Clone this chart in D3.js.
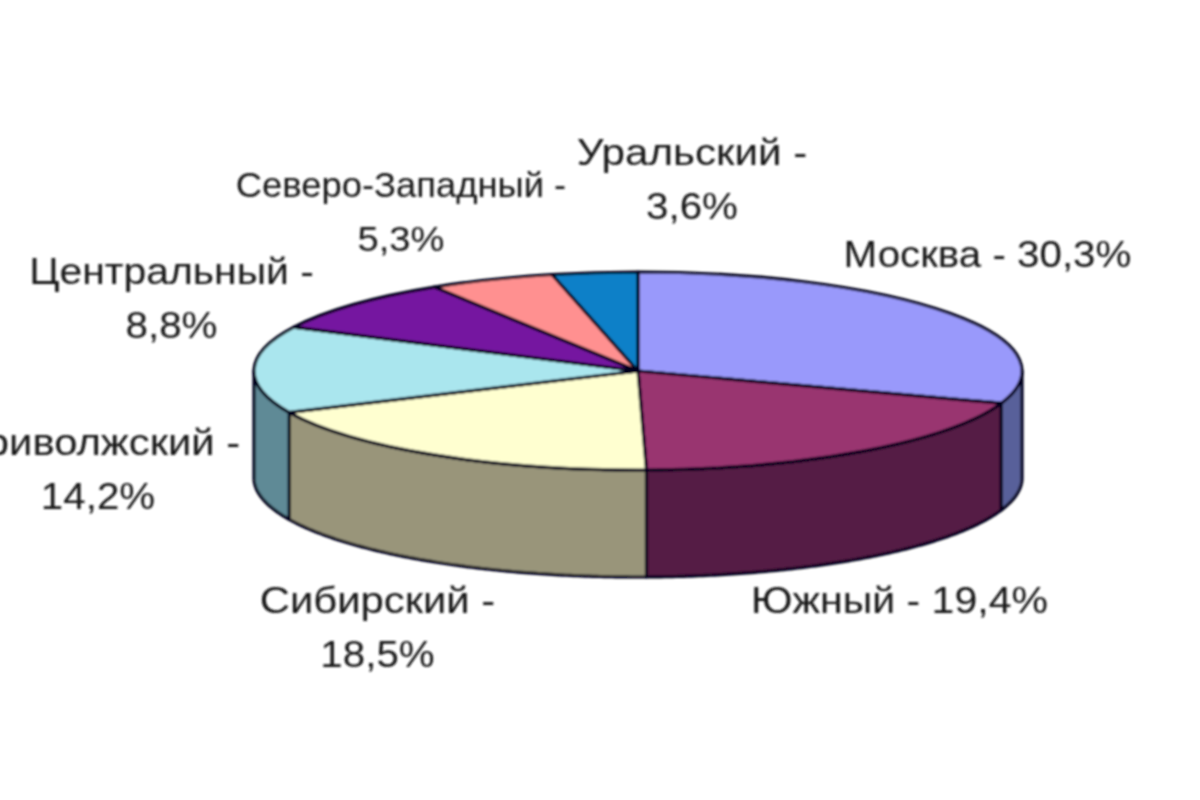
<!DOCTYPE html>
<html><head><meta charset="utf-8">
<script src="https://cdn.jsdelivr.net/npm/d3@7/dist/d3.min.js"></script>
<style>html,body{margin:0;padding:0;background:#fff;overflow:hidden}svg{display:block}</style>
</head><body><svg id="c" width="1200" height="800"></svg>
<script>
const regions = ["Москва","Южный","Сибирский","Приволжский","Центральный","Северо-Западный","Уральский"];
const shares = [30.3,19.4,18.5,14.2,8.8,5.3,3.6];
const shareLabels = ["30,3%","19,4%","18,5%","14,2%","8,8%","5,3%","3,6%"];
const topColors = ["#9999fb","#993470","#ffffd0","#aae6ee","#7518a0","#ff9090","#0a80c8"];
const sideColors = ["#59619a","#551a45","#99957a","#5f8a96","#46105f","#995656","#064d78"];
const labelLayout = [
 {x:987.5,y:267,lines:1,size:37,stretch:1.09},
 {x:899.5,y:613,lines:1,size:37,stretch:1.11},
 {x:377.5,y:613,lines:2,size:37,stretch:1.13},
 {x:98,y:455,lines:2,size:37,stretch:1.13},
 {x:171.5,y:284,lines:2,size:37,stretch:1.105},
 {x:401,y:197,lines:2,size:35,stretch:1.04},
 {x:692,y:165,lines:2,size:37,stretch:1.14}
];
const valueStretch=1.09;
const cx=638, cy=371, rx=384, ry=99, depth=107;
const sx=d3.scaleLinear().domain([-1,1]).range([cx-rx,cx+rx]);
const sy=d3.scaleLinear().domain([-1,1]).range([cy-ry,cy+ry]);
const svg=d3.select("#c");
const defs=svg.append("defs");
defs.append("filter").attr("id","soft").attr("x","-5%").attr("y","-5%").attr("width","110%").attr("height","110%")
  .append("feGaussianBlur").attr("stdDeviation",0.8);
const root=svg.append("g").attr("filter","url(#soft)");
const pie=d3.pie().value(d=>d).sort(null);
const arcs=pie(shares);
const stroke="#05051c", sw=3.2;
const pt=(a,dy=0)=>[sx(Math.sin(a)),sy(-Math.cos(a))+dy];
const line=d3.line();
// side walls
arcs.forEach((d,i)=>{
  const a0=Math.max(d.startAngle,Math.PI/2), a1=Math.min(d.endAngle,Math.PI*1.5);
  if(a1<=a0) return;
  const angles=d3.range(a0,a1,0.01).concat([a1]);
  const pts=angles.map(a=>pt(a)).concat(angles.slice().reverse().map(a=>pt(a,depth)));
  root.append("path").attr("d",line(pts)+"Z").attr("fill",sideColors[i])
    .attr("stroke",stroke).attr("stroke-width",sw).attr("stroke-linejoin","round");
});
// top slices
const arc=d3.arc().innerRadius(0).outerRadius(rx);
const topFace=root.append("g").attr("transform",`translate(${cx},${cy}) scale(1,${ry/rx})`);
topFace.selectAll("path").data(arcs).join("path").attr("d",arc)
  .attr("fill",(d,i)=>topColors[i]).attr("stroke",stroke).attr("stroke-width",sw)
  .attr("vector-effect","non-scaling-stroke").attr("stroke-linejoin","round");
// labels
const lh=54;
const put=(s,x,y,size,k)=>root.append("text").attr("text-anchor","middle")
  .attr("transform",`translate(${x},${y}) scale(${k},1)`)
  .attr("font-family","'Liberation Sans',Arial,sans-serif").attr("font-size",size).attr("fill","#141414").text(s);
regions.forEach((r,i)=>{
  const l=labelLayout[i];
  if(l.lines===1){
    put(r+" - "+shareLabels[i],l.x,l.y,l.size,l.stretch);
  } else {
    put(r+" -",l.x,l.y,l.size,l.stretch);
    put(shareLabels[i],l.x,l.y+lh,l.size,valueStretch);
  }
});
</script></body></html>
